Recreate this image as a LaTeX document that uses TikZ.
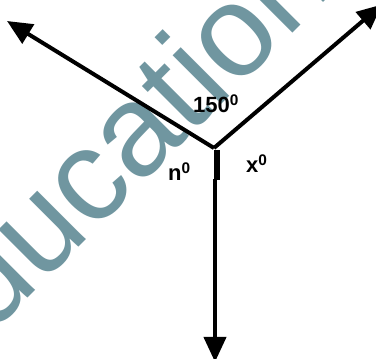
\documentclass[tikz,border=0pt]{standalone}
\usepackage{fontspec}
\setmainfont{Liberation Sans}
\usetikzlibrary{arrows.meta}
\definecolor{wm}{HTML}{7096A0}
\tikzset{
  ray/.style={line width=4pt, -{Triangle[length=25pt,width=22pt]}},
  lbl/.style={inner sep=0pt, anchor=base west, font=\fontsize{22}{22}\selectfont\bfseries},
  wmark/.style={inner sep=0pt, anchor=base west, text=wm, font=\fontsize{130}{130}\selectfont}
}
\begin{document}
\begin{tikzpicture}[x=1pt,y=1pt]
\useasboundingbox (0,0) rectangle (376,359);
\clip (0,0) rectangle (376,359);
\fill[white] (0,0) rectangle (376,359);
% watermark
\node[wmark, rotate=45] (wmtext) at (-61,-28) {education};
% geometry
\coordinate (c) at (214,211);
\coordinate (l) at (7,338);
\coordinate (r) at (382,354.5);
\coordinate (s1) at (217,209);
\coordinate (s2) at (217,179);
\coordinate (d0) at (215,180);
\coordinate (d) at (215,-3);
\draw[ray] (c) -- (l);
\draw[ray] (c) -- (r);
\draw[line width=6pt] (s1) -- (s2);
\draw[ray] (d0) -- (d);
% labels
\node[lbl] (a150) at (193,246) {150\textsuperscript{0}};
\node[lbl] (an) at (168,178) {n\textsuperscript{0}};
\node[lbl] (ax) at (246,186) {x\textsuperscript{0}};
\end{tikzpicture}
\end{document}
